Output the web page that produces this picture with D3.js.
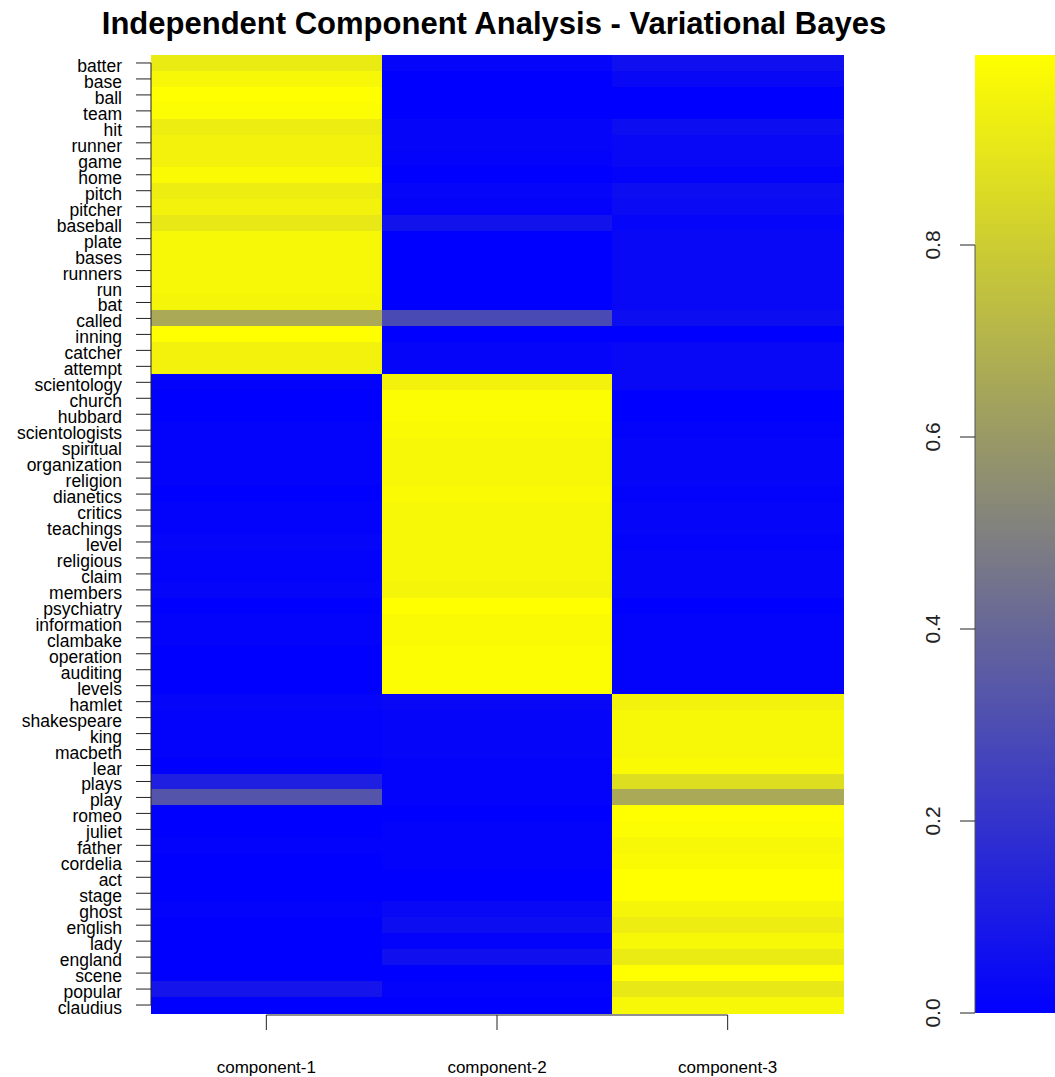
<!DOCTYPE html>
<html>
<head>
<meta charset="utf-8">
<script src="https://cdn.jsdelivr.net/npm/d3@7"></script>
<style>
  body { margin: 0; background: #fff; }
  svg { font-family: "Liberation Sans", Arial, sans-serif; }
</style>
</head>
<body>
<script>
// words (rows, top to bottom)
const words = [
    "batter", "base", "ball", "team", "hit", "runner", "game", "home", "pitch", "pitcher",
    "baseball", "plate", "bases", "runners", "run", "bat", "called", "inning", "catcher", "attempt",
    "scientology", "church", "hubbard", "scientologists", "spiritual", "organization", "religion", "dianetics", "critics", "teachings",
    "level", "religious", "claim", "members", "psychiatry", "information", "clambake", "operation", "auditing", "levels",
    "hamlet", "shakespeare", "king", "macbeth", "lear", "plays", "play", "romeo", "juliet", "father",
    "cordelia", "act", "stage", "ghost", "english", "lady", "england", "scene", "popular", "claudius"
];

const components = ["component-1", "component-2", "component-3"];

// estimated weights
const comp1 = [
    0.92, 0.97, 1.00, 0.99, 0.93, 0.95, 0.95, 0.98, 0.93, 0.95,
    0.91, 0.97, 0.97, 0.97, 0.97, 0.96, 0.66, 1.00, 0.95, 0.95,
    0.01, 0.00, 0.00, 0.01, 0.01, 0.01, 0.01, 0.00, 0.01, 0.01,
    0.02, 0.01, 0.01, 0.02, 0.00, 0.01, 0.01, 0.00, 0.00, 0.00,
    0.02, 0.01, 0.01, 0.01, 0.00, 0.12, 0.33, 0.00, 0.00, 0.01,
    0.00, 0.00, 0.00, 0.01, 0.00, 0.00, 0.00, 0.00, 0.08, 0.00
];
const comp2 = [
    0.02, 0.00, 0.00, 0.00, 0.02, 0.02, 0.01, 0.00, 0.02, 0.01,
    0.07, 0.00, 0.00, 0.00, 0.00, 0.00, 0.29, 0.00, 0.02, 0.02,
    0.95, 0.99, 0.99, 0.98, 0.97, 0.97, 0.97, 0.98, 0.97, 0.97,
    0.97, 0.97, 0.97, 0.96, 1.00, 0.98, 0.98, 0.99, 0.99, 0.99,
    0.03, 0.02, 0.02, 0.02, 0.01, 0.01, 0.01, 0.00, 0.01, 0.01,
    0.01, 0.00, 0.00, 0.03, 0.05, 0.01, 0.06, 0.00, 0.01, 0.00
];
const comp3 = [
    0.06, 0.03, 0.00, 0.00, 0.05, 0.03, 0.03, 0.01, 0.05, 0.04,
    0.02, 0.03, 0.03, 0.03, 0.03, 0.03, 0.05, 0.00, 0.03, 0.03,
    0.03, 0.00, 0.00, 0.01, 0.02, 0.02, 0.02, 0.01, 0.02, 0.02,
    0.01, 0.02, 0.02, 0.02, 0.00, 0.01, 0.01, 0.01, 0.01, 0.01,
    0.95, 0.97, 0.97, 0.97, 0.98, 0.87, 0.66, 1.00, 0.99, 0.97,
    0.98, 1.00, 1.00, 0.96, 0.93, 0.97, 0.92, 1.00, 0.91, 0.97
];

const legendTicks = [0, 0.2, 0.4, 0.6, 0.8];

const series = [comp1, comp2, comp3];
const cells = [];
words.forEach((w, i) => {
    components.forEach((c, j) => {
        cells.push({ word: w, comp: c, value: series[j][i] });
    })
});

const W = 1055, H = 1077;
const plot = { left: 151, right: 843, top: 55, bottom: 1013 };

const svg = d3.select('body')
    .append('svg')
    .attr('width', W)
    .attr('height', H);

const x = d3.scaleBand().domain(components).range([plot.left, plot.right]);
const y = d3.scaleBand().domain(words).range([plot.top, plot.bottom]);

// blue - gray - yellow ramp
const color = d3.scaleLinear()
    .domain([0, 0.5, 1])
    .range(["#0000ff", "#808080", "#ffff00"]);

svg.selectAll('rect.cell')
    .data(cells)
    .enter()
    .append('rect')
    .attr('class', 'cell')
    .attr('x', d => x(d.comp))
    .attr('y', d => y(d.word))
    .attr('width', x.bandwidth() + 0.5)
    .attr('height', y.bandwidth() + 0.5)
    .attr('fill', d => color(d.value))
    .attr('shape-rendering', 'crispEdges');

// title
svg.append('text')
    .attr('x', 494)
    .attr('y', 34)
    .attr('text-anchor', 'middle')
    .attr('font-size', 31)
    .attr('font-weight', 'bold')
    .attr('fill', '#000')
    .text('Independent Component Analysis - Variational Bayes');

// y axis (R style: line from first to last tick)
const yc = d => y(d) + y.bandwidth() / 2;
const yAxis = svg.append('g');
yAxis.append('line')
    .attr('x1', plot.left).attr('x2', plot.left)
    .attr('y1', yc(words[0])).attr('y2', yc(words[words.length - 1]))
    .attr('stroke', '#222');
yAxis.selectAll('line.tick')
    .data(words)
    .enter()
    .append('line')
    .attr('class', 'tick')
    .attr('x1', plot.left - 15).attr('x2', plot.left)
    .attr('y1', d => yc(d)).attr('y2', d => yc(d))
    .attr('stroke', '#222');
yAxis.selectAll('text')
    .data(words)
    .enter()
    .append('text')
    .attr('x', 122)
    .attr('y', d => yc(d) + 9)
    .attr('text-anchor', 'end')
    .attr('font-size', 17.5)
    .attr('fill', '#000')
    .text(d => d);

// x axis
const xc = d => x(d) + x.bandwidth() / 2;
const xAxis = svg.append('g');
xAxis.append('line')
    .attr('x1', xc(components[0])).attr('x2', xc(components[2]))
    .attr('y1', 1015).attr('y2', 1015)
    .attr('stroke', '#222');
xAxis.selectAll('line.tick')
    .data(components)
    .enter()
    .append('line')
    .attr('class', 'tick')
    .attr('x1', d => xc(d)).attr('x2', d => xc(d))
    .attr('y1', 1015).attr('y2', 1030)
    .attr('stroke', '#222');
xAxis.selectAll('text')
    .data(components)
    .enter()
    .append('text')
    .attr('x', d => xc(d))
    .attr('y', 1073)
    .attr('text-anchor', 'middle')
    .attr('font-size', 17)
    .attr('fill', '#000')
    .text(d => d);

// colour bar
const cb = { left: 975, right: 1090, top: 55, bottom: 1013 };
const cScale = d3.scaleLinear().domain([0, 1]).range([cb.bottom, 53]);

const grad = svg.append('defs').append('linearGradient')
    .attr('id', 'ramp')
    .attr('x1', 0).attr('y1', 1).attr('x2', 0).attr('y2', 0);
d3.range(0, 1.0001, 0.05).forEach(t => {
    grad.append('stop')
        .attr('offset', t)
        .attr('stop-color', color(t));
});

svg.append('rect')
    .attr('x', cb.left)
    .attr('y', cb.top)
    .attr('width', cb.right - cb.left)
    .attr('height', cb.bottom - cb.top)
    .attr('fill', 'url(#ramp)');

const cAxis = svg.append('g');
cAxis.append('line')
    .attr('x1', cb.left).attr('x2', cb.left)
    .attr('y1', cScale(0)).attr('y2', cScale(0.8))
    .attr('stroke', '#555');
cAxis.selectAll('line.tick')
    .data(legendTicks)
    .enter()
    .append('line')
    .attr('class', 'tick')
    .attr('x1', cb.left - 15).attr('x2', cb.left)
    .attr('y1', d => cScale(d)).attr('y2', d => cScale(d))
    .attr('stroke', '#222');
cAxis.selectAll('text')
    .data(legendTicks)
    .enter()
    .append('text')
    .attr('transform', d => `translate(940,${cScale(d)}) rotate(-90)`)
    .attr('text-anchor', 'middle')
    .attr('font-size', 21)
    .attr('fill', '#222')
    .text(d => d3.format('.1f')(d));
</script>
</body>
</html>
